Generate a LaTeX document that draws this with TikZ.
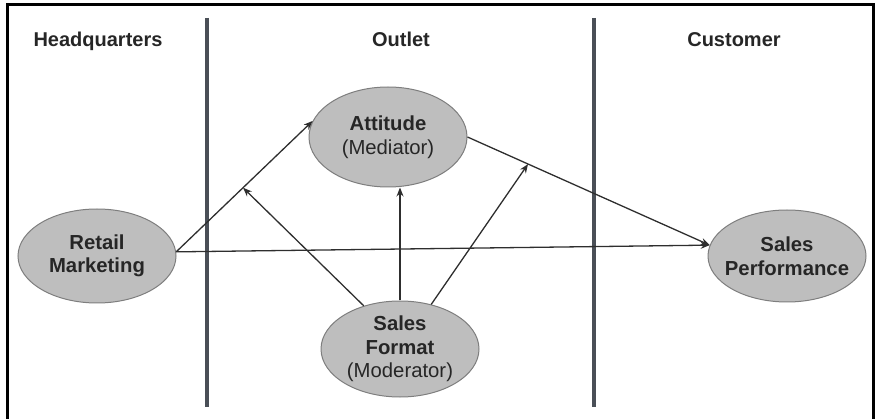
\documentclass[tikz,border=0pt]{standalone}
\usepackage{fontspec}
\setmainfont{Liberation Sans}
\usetikzlibrary{shapes.geometric,arrows.meta,calc}
\definecolor{ellipsefill}{HTML}{BEBEBE}
\definecolor{ellipseline}{HTML}{7E7E7E}
\definecolor{dividercol}{HTML}{4A4F57}
\definecolor{arrowcol}{HTML}{2E2E2E}
\begin{document}
\begin{tikzpicture}[x=1pt,y=-1pt,
  factor/.style={ellipse, draw=ellipseline, fill=ellipsefill, line width=1pt,
    minimum width=158pt, minimum height=94pt, inner sep=-7pt, align=center,
    text=black!85, font=\fontsize{20.3}{23.5}\selectfont},
  heading/.style={anchor=base, text=black!85, font=\fontsize{20}{24}\selectfont\bfseries},
  divider/.style={line width=3.2pt, draw=dividercol},
  frame/.style={line width=3pt, draw=black},
  link/.style={line width=1.3pt, draw=arrowcol, -{Stealth[length=9pt,width=7pt]}}
]
\useasboundingbox (0,0) rectangle (875,419);
\clip (0,0) rectangle (875,419);

% outer frame (open at the bottom edge)
\draw[frame] (7,430) -- (7,5) -- (873,5) -- (873,430);

% column dividers
\draw[divider] (207,18) -- (207,407);
\draw[divider] (594,18) -- (594,407);

% column headings
\node[heading] (hq)   at (98,47)  {Headquarters};
\node[heading] (out)  at (401,47) {Outlet};
\node[heading] (cust) at (734,47) {Customer};

% constructs
\node[factor] (rm)  at (97,256)  {\textbf{Retail}\\\textbf{Marketing}};
\node[factor, minimum height=100pt] (att) at (388,137) {\textbf{Attitude}\\(Mediator)};
\node[factor, minimum height=96pt] (sf)  at (400,349) {\textbf{Sales}\\\textbf{Format}\\(Moderator)};
\node[factor, minimum height=92pt] (sp)  at (787,256) {\textbf{Sales}\\\textbf{Performance}};

% paths
\coordinate (rmout) at (rm.3);
\draw[link] (rmout) -- coordinate[pos=0.49] (m1) (att.168);
\draw[link] (rmout) -- (sp.172);
\draw[link] (att.east) -- coordinate[pos=0.25] (m2) (sp.172);

% moderating effects
\draw[link] (sf.130) -- (m1);
\draw[link] (sf.north) -- (sf.north |- att.south);
\draw[link] (sf.55) -- (m2);
\end{tikzpicture}
\end{document}
